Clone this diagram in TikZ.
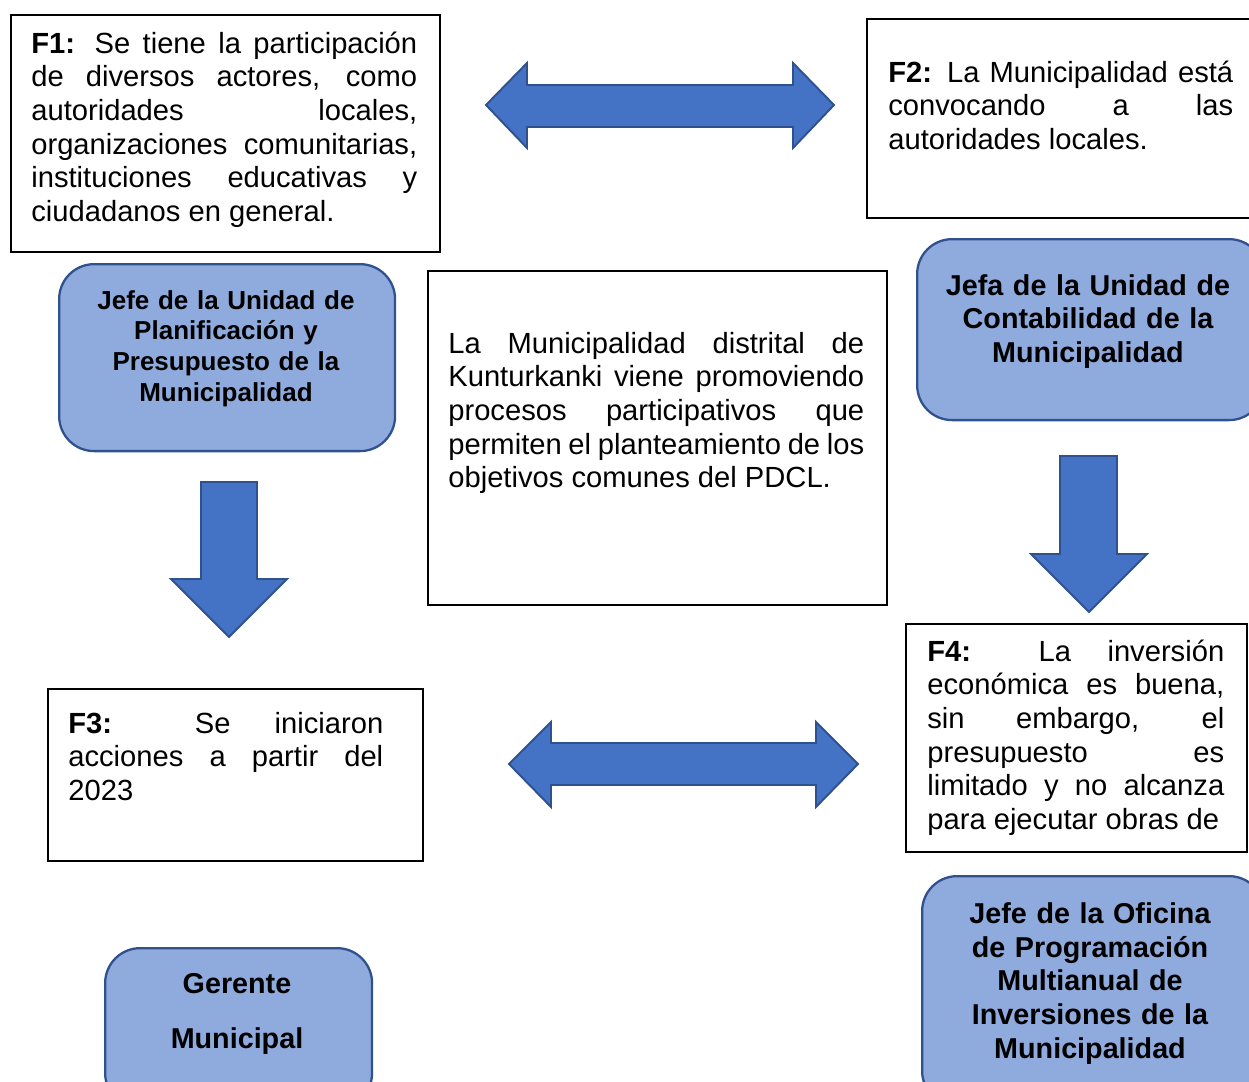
\documentclass[tikz,border=0pt]{standalone}
\usepackage{fontspec}
\setmainfont{Liberation Sans}
\definecolor{boxblue}{HTML}{8FAADC}
\definecolor{edgeblue}{HTML}{2F528F}
\definecolor{arrowblue}{HTML}{4472C4}
\tolerance=10000
\hbadness=10000
\tikzset{
  factbox/.style={draw, line width=1.4pt, rectangle, anchor=north west, inner sep=0pt},
  rolebox/.style={draw=edgeblue, fill=boxblue, line width=1.3pt, rounded corners=0.7cm, anchor=north west, inner sep=0pt},
  facttext/.style={anchor=base west, inner sep=0pt, align=justify, font=\fontsize{16.6}{19.2}\selectfont},
  roletext/.style={anchor=base, inner sep=0pt, align=center, font=\bfseries\fontsize{16.35}{19.35}\selectfont},
  blockarrow/.style={draw=edgeblue, fill=arrowblue, line width=1.1pt, line join=miter}
}
\begin{document}
\begin{tikzpicture}[x=0.02cm, y=-0.02cm]
\useasboundingbox (0,0) rectangle (1249,1082);
\clip (0,0) rectangle (1249,1082);
% boxes
\node[factbox, minimum width=8.58cm, minimum height=4.74cm] (f1) at (10,14) {};
\node[factbox, minimum width=7.92cm, minimum height=3.98cm] (f2) at (866,18) {};
\node[factbox, minimum width=9.18cm, minimum height=6.68cm] (pdcl) at (427,270) {};
\node[factbox, minimum width=7.5cm, minimum height=3.44cm] (f3) at (47,688) {};
\node[factbox, minimum width=6.82cm, minimum height=4.56cm] (f4) at (905,623) {};
\node[rolebox, minimum width=6.72cm, minimum height=3.74cm] (planif) at (58,263) {};
\node[rolebox, minimum width=6.94cm, minimum height=3.62cm] (conta) at (916,238) {};
\node[rolebox, minimum width=6.84cm, minimum height=4.6cm] (opmi) at (921,875) {};
\node[rolebox, minimum width=5.34cm, minimum height=3.2cm] (gerente) at (104,947) {};
% texts
\node[facttext, text width=7.72cm] (f1txt) at (31,53) {\textbf{F1:} Se tiene la participación\linebreak de diversos actores, como\linebreak autoridades locales,\linebreak organizaciones comunitarias,\linebreak instituciones educativas y\linebreak ciudadanos en general.};
\node[facttext, text width=6.9cm] (f2txt) at (888,82) {\textbf{F2:} La Municipalidad está\linebreak convocando a las\linebreak autoridades locales.};
\node[facttext, text width=8.32cm] (pdcltxt) at (448,353) {La Municipalidad distrital de\linebreak Kunturkanki viene promoviendo\linebreak procesos participativos que\linebreak permiten el planteamiento de los\linebreak objetivos comunes del PDCL.};
\node[facttext, text width=6.3cm] (f3txt) at (68,733) {\textbf{F3:} Se iniciaron\linebreak acciones a partir del\linebreak 2023};
\node[facttext, text width=5.94cm] (f4txt) at (927,661) {\textbf{F4:} La inversión\linebreak económica es buena,\linebreak sin embargo, el\linebreak presupuesto es\linebreak limitado y no alcanza\linebreak para ejecutar obras de};
\node[roletext, text width=6.4cm, font=\bfseries\fontsize{14.8}{17.6}\selectfont] (planiftxt) at (226,309) {Jefe de la Unidad de\\Planificación y\\Presupuesto de la\\Municipalidad};
\node[roletext, text width=6.6cm] (contatxt) at (1088,295) {Jefa de la Unidad de\\Contabilidad de la\\Municipalidad};
\node[roletext, text width=6.6cm] (opmitxt) at (1090,923) {Jefe de la Oficina\\de Programación\\Multianual de\\Inversiones de la\\Municipalidad};
\node[roletext, text width=5cm, font=\bfseries\fontsize{16.35}{31.3}\selectfont] (gerentetxt) at (237,993) {Gerente\\Municipal};
% block arrows
\draw[blockarrow] (486,105) -- (527,63) -- (527,85) -- (793,85) -- (793,63) -- (834,105) -- (793,148) -- (793,127) -- (527,127) -- (527,148) -- cycle;
\draw[blockarrow] (509,764) -- (551,722) -- (551,743) -- (816,743) -- (816,722) -- (858,764) -- (816,807) -- (816,785) -- (551,785) -- (551,807) -- cycle;
\draw[blockarrow] (201,482) -- (257,482) -- (257,579) -- (287,579) -- (229,637) -- (171,579) -- (201,579) -- cycle;
\draw[blockarrow] (1060,456) -- (1117,456) -- (1117,554) -- (1147,554) -- (1089,612) -- (1031,554) -- (1060,554) -- cycle;
\end{tikzpicture}
\end{document}
